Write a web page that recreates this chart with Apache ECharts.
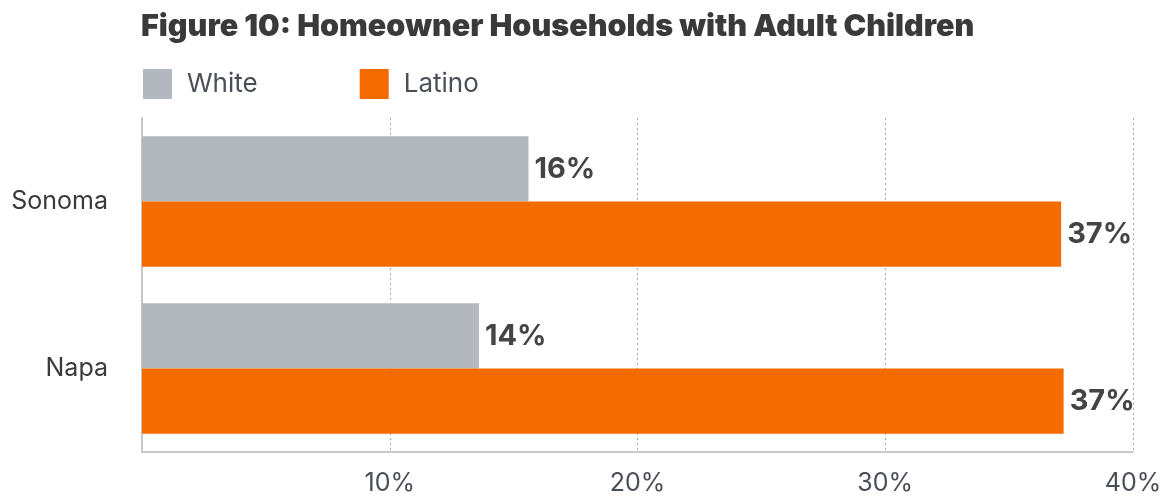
<!DOCTYPE html>
<html>
<head>
<meta charset="utf-8">
<script src="https://cdn.jsdelivr.net/npm/echarts@6/dist/echarts.min.js"></script>
<style>html,body{margin:0;padding:0;background:#fff}#c{width:1167px;height:498px}</style>
</head>
<body>
<div id="c"></div>
<script>
const titleText = "Figure 10: Homeowner Households with Adult Children";
const categories = ["Sonoma", "Napa"];
const seriesNames = ["White", "Latino"];
const whiteValues = [15.6, 13.6];
const latinoValues = [37.1, 37.2];
const xTicks = [0, 10, 20, 30, 40];

const chart = echarts.init(document.getElementById('c'), null, {renderer: 'canvas'});
const labelStyle = {
  show: true, position: 'right', distance: 6,
  fontFamily: 'Inter', fontWeight: 700, fontSize: 29, color: '#444444',
  formatter: p => Math.round(p.value) + '%'
};
chart.setOption({
  animation: false,
  title: {
    text: titleText, left: 141, top: 11, padding: 0,
    textStyle: {fontFamily: 'Inter', fontWeight: 900, fontSize: 30.5, color: '#3a3a3a'}
  },
  legend: {
    data: seriesNames, left: 143, top: 69, icon: 'rect', padding: 0,
    itemWidth: 29, itemHeight: 30, itemGap: 102,
    textStyle: {fontFamily: 'Inter', fontSize: 26, color: '#4a4f57', padding: [4, 0, 0, 10]}
  },
  grid: {left: 142, right: 34, top: 118, bottom: 46, containLabel: false},
  xAxis: {
    type: 'value', min: xTicks[0], max: xTicks[xTicks.length - 1], interval: 10,
    axisLine: {show: true, lineStyle: {color: '#c8c8c8', width: 2}},
    axisTick: {show: false},
    axisLabel: {
      fontFamily: 'Inter', fontSize: 25, color: '#4a4f57', margin: 19,
      formatter: v => v === 0 ? '' : v + '%'
    },
    splitLine: {show: true, lineStyle: {type: [2, 3], color: '#a8a8a8', width: 1}}
  },
  yAxis: {
    type: 'category', data: categories, inverse: true,
    axisLine: {show: true, lineStyle: {color: '#c8c8c8', width: 2}},
    axisTick: {show: false},
    axisLabel: {fontFamily: 'Inter', fontSize: 25, color: '#3a3a3a', margin: 34}
  },
  series: [
    {name: seriesNames[0], type: 'bar', data: whiteValues, barGap: '0%', barCategoryGap: '22%',
     itemStyle: {color: '#b3b8be'}, label: labelStyle},
    {name: seriesNames[1], type: 'bar', data: latinoValues,
     itemStyle: {color: '#f56b00'}, label: labelStyle}
  ]
});
</script>
</body>
</html>
